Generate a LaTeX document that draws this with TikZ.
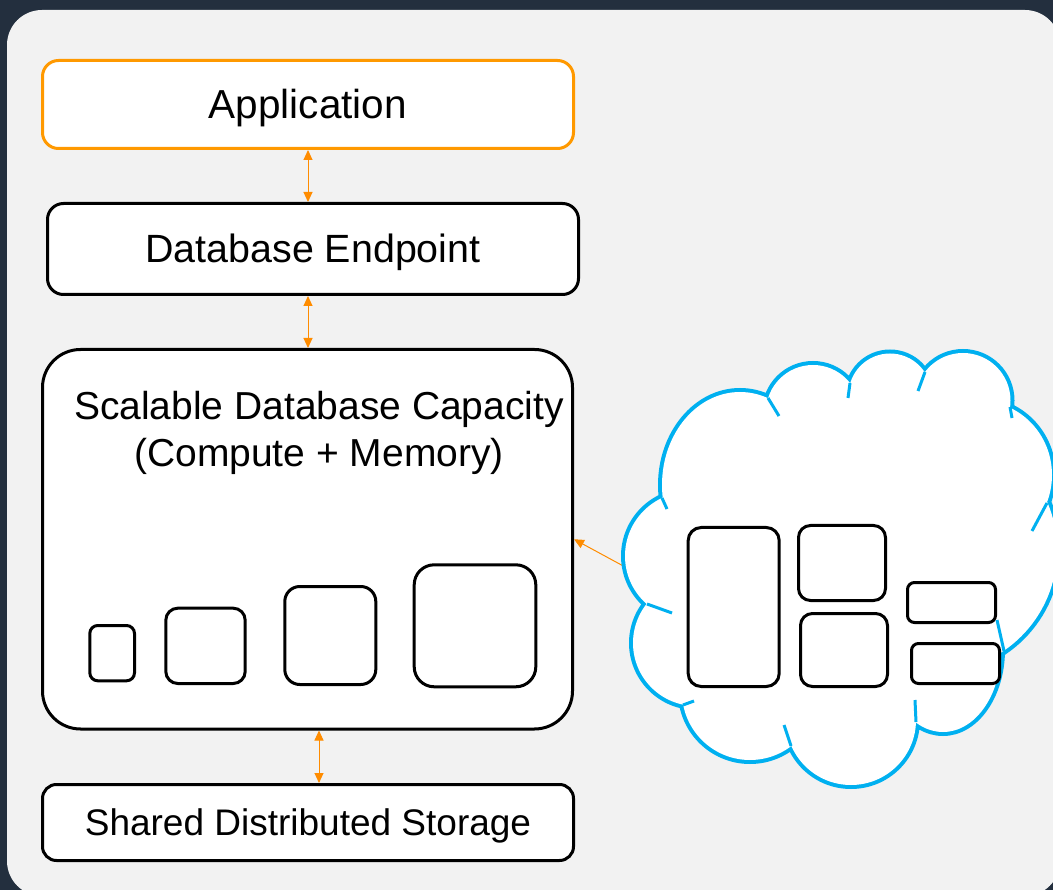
\documentclass[tikz,border=0pt]{standalone}
\usepackage{fontspec}
\setmainfont{Liberation Sans}
\usetikzlibrary{arrows.meta}
\definecolor{navy}{HTML}{232F3E}
\definecolor{panel}{HTML}{F2F2F2}
\definecolor{awsorange}{HTML}{FF9900}
\definecolor{arrorange}{HTML}{FF8C00}
\definecolor{cloudblue}{HTML}{00B0F0}
\begin{document}
\begin{tikzpicture}[x=1pt,y=-1pt,
  box/.style={draw=black, line width=3pt, fill=white, rounded corners=16pt, inner sep=0pt, text depth=0pt},
  arr/.style={draw=arrorange, line width=1pt, {Triangle[length=10pt,width=9pt]}-{Triangle[length=10pt,width=9pt]}},
  arrone/.style={draw=arrorange, line width=1pt, -{Triangle[length=10pt,width=9pt]}},
  unit/.style={draw=black, line width=3pt, fill=white},
  hook/.style={draw=cloudblue, line width=3pt}]
\useasboundingbox (0,0) rectangle (1053,890);
\fill[navy] (0,0) rectangle (1053,890);
\fill[panel, rounded corners=35pt] (7,10) rectangle (1060,896);

% main stack
\node[box, draw=awsorange, minimum width=531pt, minimum height=88pt, text height=27.8pt,
      font=\fontsize{40.5}{48}\selectfont] (app) at (308,104.5) {Application};
\node[box, minimum width=531pt, minimum height=91pt, text height=27.1pt,
      font=\fontsize{39.4}{47}\selectfont] (de) at (313,249) {Database Endpoint};
\node[box, rounded corners=38pt, minimum width=530pt, minimum height=379.5pt] (cap) at (307.5,539.25) {};
\node[anchor=base, inner sep=0pt, font=\fontsize{39}{47}\selectfont] (cap1) at (319,420) {Scalable Database Capacity};
\node[anchor=base, inner sep=0pt, font=\fontsize{39}{47}\selectfont] (cap2) at (319,467) {(Compute + Memory)};
\node[box, rounded corners=14pt, minimum width=531pt, minimum height=76pt, text height=25.5pt,
      font=\fontsize{37}{44}\selectfont] (sto) at (308,822.5) {Shared Distributed Storage};

% capacity units
\draw[unit, rounded corners=8pt]  (89.8,625.5) rectangle (134.5,680.8);
\draw[unit, rounded corners=12pt] (165.8,608.2) rectangle (245.2,683.5);
\draw[unit, rounded corners=15pt] (284.8,586.5) rectangle (375.8,684.5);
\draw[unit, rounded corners=20pt] (414.2,564.8) rectangle (535.8,686.8);

% connectors
\draw[arr] (app.south) -- (app.south |- de.north);
\draw[arr] (de.south -| app.south) -- (cap.north -| app.south);
\draw[arr] (cap.south -| cap1) -- (sto.north -| cap1);
\coordinate (cloudtail) at (627,568);
\draw[arrone] (cloudtail) -- (cap.east);

% cloud
\draw[cloudblue, line width=8pt]
 (689,556) circle[radius=64pt]
 (740,485) circle[x radius=78pt, y radius=93pt]
 (813,412) circle[radius=47pt]
 (890,395) circle[radius=41.5pt]
 (963,400.5) circle[radius=47.5pt]
 (980,475) circle[x radius=72pt, y radius=74pt]
 (935,550) circle[radius=122pt]
 (943,650) circle[x radius=58pt, y radius=82pt]
 (851,720) circle[radius=65pt]
 (750,692) circle[radius=68pt]
 (696,643) circle[radius=63pt];
\fill[white]
 (689,556) circle[radius=64pt]
 (740,485) circle[x radius=78pt, y radius=93pt]
 (813,412) circle[radius=47pt]
 (890,395) circle[radius=41.5pt]
 (963,400.5) circle[radius=47.5pt]
 (980,475) circle[x radius=72pt, y radius=74pt]
 (935,550) circle[radius=122pt]
 (943,650) circle[x radius=58pt, y radius=82pt]
 (851,720) circle[radius=65pt]
 (750,692) circle[radius=68pt]
 (696,643) circle[radius=63pt];
\fill[white] (689,556) -- (740,485) -- (813,412) -- (890,395) -- (963,400.5) -- (980,475)
  -- (935,550) -- (943,650) -- (851,720) -- (750,692) -- (696,643) -- cycle;
\draw[hook] (662,498) -- (667,509);
\draw[hook] (768,398) -- (779,416);
\draw[hook] (850,383) -- (848,398);
\draw[hook] (925,372) -- (918,391);
\draw[hook] (1010,407) -- (1012,418);
\draw[hook] (1047,503) -- (1032,531);
\draw[hook] (1004,651) -- (997,620);
\draw[hook] (916,722) -- (915,700);
\draw[hook] (791,746) -- (784,725);
\draw[hook] (683,705) -- (694,701);
\draw[hook] (647,604) -- (672,613);

% cloud resources
\draw[unit, rounded corners=13pt] (688.2,527.5) rectangle (779.2,686.5);
\draw[unit, rounded corners=12pt] (798.5,525.5) rectangle (885.5,600.5);
\draw[unit, rounded corners=12pt] (800.5,613.5) rectangle (887.5,686.5);
\draw[unit, rounded corners=7pt]  (907.5,582.5) rectangle (995.5,622.5);
\draw[unit, rounded corners=7pt]  (911.5,643.5) rectangle (999.5,683.5);
\end{tikzpicture}
\end{document}
